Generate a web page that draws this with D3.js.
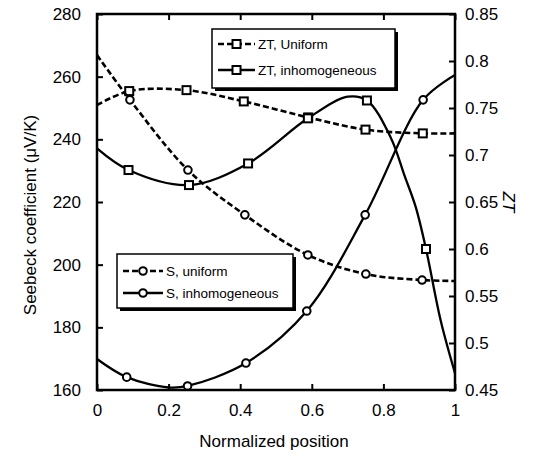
<!DOCTYPE html>
<html>
<head>
<meta charset="utf-8">
<script src="https://cdn.jsdelivr.net/npm/d3@7"></script>
<style>
  body { margin: 0; background: #fff; }
  text { font-family: "Liberation Sans", Arial, sans-serif; fill: #000; }
</style>
</head>
<body>
<svg class="chart"></svg>
<script>
// normalized position of curve points and the indices that carry markers
const ztUniX = [0, 0.09, 0.25, 0.41, 0.59, 0.75, 0.91, 1];
const ztUniY = [0.753, 0.768, 0.769, 0.757, 0.740, 0.727, 0.723, 0.723];
const ztUniMarks = [1, 2, 3, 4, 5, 6];

const ztInhX = [0, 0.088, 0.257, 0.422, 0.589, 0.70, 0.754, 0.82, 0.86, 0.89, 0.919, 0.96, 1];
const ztInhY = [0.707, 0.684, 0.668, 0.691, 0.739, 0.762, 0.758, 0.719, 0.677, 0.645, 0.600, 0.524, 0.468];
const ztInhMarks = [1, 2, 3, 4, 6, 10];

const sUniX = [0, 0.092, 0.254, 0.413, 0.589, 0.751, 0.908, 1];
const sUniY = [266.9, 252.6, 230.2, 215.9, 203.1, 197.0, 195.1, 194.8];
const sUniMarks = [1, 2, 3, 4, 5, 6];

const sInhX = [0, 0.083, 0.2, 0.253, 0.416, 0.586, 0.749, 0.911, 1];
const sInhY = [169.9, 164.1, 160.8, 161.3, 168.6, 185.2, 215.9, 252.6, 260.5];
const sInhMarks = [1, 3, 4, 5, 6, 7];

const xTicks = [0, 0.2, 0.4, 0.6, 0.8, 1];
const sTicks = [160, 180, 200, 220, 240, 260, 280];
const ztTicks = [0.45, 0.5, 0.55, 0.6, 0.65, 0.7, 0.75, 0.8, 0.85];

const W = 543, H = 457;
const margin = {top: 14, right: 88, bottom: 67, left: 97},
    width = W - margin.left - margin.right,
    height = H - margin.top - margin.bottom;

const svg = d3.select(".chart")
    .attr("width", W)
    .attr("height", H)
    .append("g")
    .attr("transform", `translate(${margin.left}, ${margin.top})`);

const x = d3.scaleLinear().domain([0, 1]).range([0, width]);
const yS = d3.scaleLinear().domain([160, 280]).range([height, 0]);
const yZ = d3.scaleLinear().domain([0.45, 0.85]).range([height, 0]);

const tickFmt = d => d3.format("")(+d.toFixed(2));

function styleAxis(g) {
    g.select(".domain").remove();
    g.selectAll(".tick line").attr("stroke", "#000").attr("stroke-width", 2);
    g.selectAll(".tick text").style("font-size", "17px").attr("fill", "#000");
}

svg.append("g")
    .attr("transform", `translate(0,${height})`)
    .call(d3.axisBottom(x).tickValues(xTicks).tickSize(-6).tickPadding(14).tickFormat(tickFmt))
    .call(styleAxis);
svg.append("g")
    .call(d3.axisTop(x).tickValues(xTicks).tickSize(-6).tickFormat(""))
    .call(styleAxis);
svg.append("g")
    .call(d3.axisLeft(yS).tickValues(sTicks).tickSize(-6).tickPadding(16))
    .call(styleAxis);
svg.append("g")
    .attr("transform", `translate(${width},0)`)
    .call(d3.axisRight(yZ).tickValues(ztTicks).tickSize(-6).tickPadding(10).tickFormat(tickFmt))
    .call(styleAxis);

const series = [
    {xs: ztUniX, ys: ztUniY, marks: ztUniMarks, scale: yZ, dash: "6,3", shape: "square"},
    {xs: ztInhX, ys: ztInhY, marks: ztInhMarks, scale: yZ, dash: null, shape: "square"},
    {xs: sUniX, ys: sUniY, marks: sUniMarks, scale: yS, dash: "6,3", shape: "circle"},
    {xs: sInhX, ys: sInhY, marks: sInhMarks, scale: yS, dash: null, shape: "circle"}
];

function drawMarker(g, shape, cx, cy) {
    if (shape === "square") {
        g.append("rect")
            .attr("x", cx - 4).attr("y", cy - 4)
            .attr("width", 8).attr("height", 8)
            .attr("fill", "#fff").attr("stroke", "#000").attr("stroke-width", 2);
    } else {
        g.append("circle")
            .attr("cx", cx).attr("cy", cy).attr("r", 3.8)
            .attr("fill", "#fff").attr("stroke", "#000").attr("stroke-width", 2);
    }
}

const plot = svg.append("g");
series.forEach(s => {
    const pts = s.xs.map((v, i) => [v, s.ys[i]]);
    const line = d3.line()
        .x(d => x(d[0]))
        .y(d => s.scale(d[1]))
        .curve(d3.curveCatmullRom.alpha(0.5));
    plot.append("path")
        .datum(pts)
        .attr("fill", "none")
        .attr("stroke", "#000")
        .attr("stroke-width", s.dash ? 2.6 : 2.3)
        .attr("stroke-dasharray", s.dash)
        .attr("d", line);
    s.marks.forEach(i => drawMarker(plot, s.shape, x(s.xs[i]), s.scale(s.ys[i])));
});

// frame
svg.append("rect")
    .attr("width", width).attr("height", height)
    .attr("fill", "none").attr("stroke", "#000").attr("stroke-width", 2.5);

// legends
function legend(lx, ly, lw, lh, entries, sampleX0, sampleX1, textX) {
    const g = svg.append("g").attr("transform", `translate(${lx - margin.left},${ly - margin.top})`);
    g.append("rect").attr("x", 3).attr("y", 3).attr("width", lw).attr("height", lh).attr("fill", "#000");
    g.append("rect").attr("width", lw).attr("height", lh)
        .attr("fill", "#fff").attr("stroke", "#000").attr("stroke-width", 1.5);
    entries.forEach((e, i) => {
        const yy = e.y - ly;
        g.append("line")
            .attr("x1", sampleX0 - lx).attr("x2", sampleX1 - lx)
            .attr("y1", yy).attr("y2", yy)
            .attr("stroke", "#000").attr("stroke-width", 2.3)
            .attr("stroke-dasharray", e.dash);
        drawMarker(g, e.shape, (sampleX0 + sampleX1) / 2 - lx, yy);
        g.append("text")
            .attr("x", textX - lx).attr("y", yy)
            .attr("dy", "0.35em")
            .style("font-size", "13.5px")
            .text(e.label);
    });
}

legend(212, 29, 183, 59, [
    {label: "ZT, Uniform", y: 44, dash: "6,3", shape: "square"},
    {label: "ZT, inhomogeneous", y: 70, dash: null, shape: "square"}
], 218, 255, 258);

legend(117, 254, 176, 54, [
    {label: "S, uniform", y: 271, dash: "6,3", shape: "circle"},
    {label: "S, inhomogeneous", y: 293, dash: null, shape: "circle"}
], 123, 163, 166);

// axis titles
const root = d3.select(".chart");
root.append("text")
    .attr("x", 274).attr("y", 447)
    .attr("text-anchor", "middle")
    .style("font-size", "17px")
    .text("Normalized position");
root.append("text")
    .attr("transform", "translate(36,215) rotate(-90)")
    .attr("text-anchor", "middle")
    .style("font-size", "17px")
    .text("Seebeck coefficient (μV/K)");
root.append("text")
    .attr("transform", "translate(503,202) rotate(90)")
    .attr("text-anchor", "middle")
    .style("font-size", "17px")
    .style("font-style", "italic")
    .text("ZT");
</script>
</body>
</html>
